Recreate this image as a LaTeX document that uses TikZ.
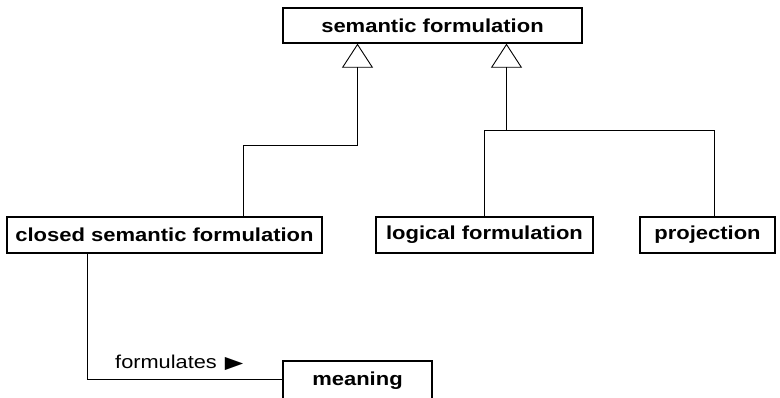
\documentclass[tikz,border=0pt]{standalone}
\usepackage{fontspec}
\setmainfont{Liberation Sans}
\newfontfamily\lbold[FakeStretch=1.17]{Liberation Sans Bold}
\newfontfamily\lreg[FakeStretch=1.17]{Liberation Sans}
\newfontfamily\djv{DejaVu Sans}
\usetikzlibrary{arrows.meta}
\begin{document}
\begin{tikzpicture}[x=1pt,y=-1pt,
  cls/.style={draw, line width=1.3pt, inner sep=0pt, font=\lbold\fontsize{18.8}{20}\selectfont, minimum height=36pt},
  conn/.style={draw, line width=0.9pt},
  gen/.style={conn, -{Triangle[open, length=24pt, width=31pt, line width=0.9pt]}}]
\useasboundingbox (0,0) rectangle (780,397);
\node[cls, minimum width=299pt, minimum height=35pt] (sf) at (432.5,25.5) {semantic formulation};
\node[cls, minimum width=315pt] (closed) at (164.5,235) {closed semantic formulation};
\node[cls, minimum width=217pt] (logical) at (484.5,235) {logical formulation};
\node[cls, minimum width=135pt] (proj) at (707.5,235) {projection};
\node[cls, minimum width=149pt, minimum height=40pt] (meaning) at (357.5,381) {meaning};
\coordinate (j1) at (357.5,145.5);
\coordinate (a1) at (243.5,217);
\coordinate (j2) at (506.5,130.5);
\coordinate (a3) at (714.5,217);
\coordinate (b1) at (87.5,253);
\coordinate (b2) at (283,379.5);
\draw[gen] (a1) |- (j1) -- (j1 |- sf.south);
\draw[gen] (j2) -- (j2 |- sf.south);
\draw[conn] (logical.north) |- (a3 |- j2) -- (a3);
\draw[conn] (b1) |- (b2);
\node[anchor=base west, inner sep=0pt, font=\lreg\fontsize{18.6}{20}\selectfont] (lab) at (115,368) {formulates\hspace{8pt}{\djv\fontsize{24}{26}\selectfont\scalebox{1}[0.72]{▶}}};
\end{tikzpicture}
\end{document}
